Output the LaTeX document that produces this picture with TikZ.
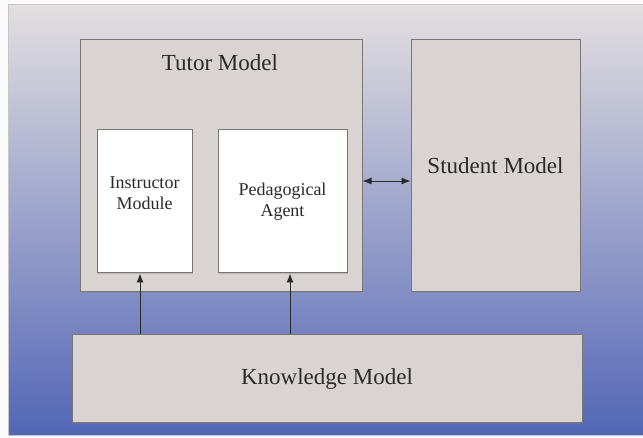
\documentclass[tikz,border=0pt]{standalone}
\usepackage{fontspec}
\setmainfont{Liberation Serif}
\usepackage{tikz}
\usetikzlibrary{arrows,arrows.meta,shadows,calc}

\definecolor{boxfill}{HTML}{D9D4D1}
\definecolor{boxline}{HTML}{7A7676}
\definecolor{bgtop}{HTML}{E3DFE0}
\definecolor{bgbottom}{HTML}{5266B6}
\definecolor{textgray}{HTML}{2A2A2A}

\begin{document}
\begin{tikzpicture}[x=1pt, y=-1pt, >={Latex[length=9pt, width=7pt]},
                    every model box/.style = {},
                    model box/.style = {rectangle, draw=boxline, line width=1pt, text=textgray, inner sep=0pt,
                                        drop shadow={shadow xshift=1pt, shadow yshift=-1pt, opacity=.35}, every model box},
                    outer model/.style = {fill=boxfill, model box, font=\fontsize{23}{26}\selectfont},
                    inner model/.style = {fill=white, model box, align=center, font=\fontsize{18}{21}\selectfont},
                    link/.style = {draw=textgray, line width=0.9pt}]
                \useasboundingbox (0,0) rectangle (643,438);
                % background
                \fill[white!96!gray] (0,0) rectangle (643,438);
                \shade[top color=bgtop, bottom color=bgbottom] (8,5) rectangle (643,435);
                \draw[gray!45, line width=1pt] (643,5) -- (8,5) -- (8,435) -- (643,435);
                % tutor left
                \node at (221,166) [outer model, minimum width=282, minimum height=252] (tutor) {};
                \node at (220,63) [text=textgray, font=\fontsize{23}{26}\selectfont] (tutorlabel) {Tutor Model};
                \node at (144.5,201.5) [inner model, minimum width=95, minimum height=143] (instructor) {Instructor\\Module\\[-4pt]};
                \node at (282.5,201.5) [inner model, minimum width=129, minimum height=143] (pedagogical) {Pedagogical\\Agent};
                % student right
                \node at (495.5,166) [outer model, minimum width=169, minimum height=252] (student) {Student Model};
                % knowledge bottom
                \node at (327,379) [outer model, minimum width=510, minimum height=88] (knowledge) {Knowledge Model};
                %connections
                \draw[link, ->] ([xshift=-4.5pt]instructor.south |- knowledge.north) -- ([xshift=-4.5pt]instructor.south);
                \draw[link, ->] ([xshift=7.5pt]pedagogical.south |- knowledge.north) -- ([xshift=7.5pt]pedagogical.south);
                \draw[link, <->] ([yshift=-15pt]tutor.east) -- ([yshift=-15pt]student.west);
            \end{tikzpicture}
\end{document}
